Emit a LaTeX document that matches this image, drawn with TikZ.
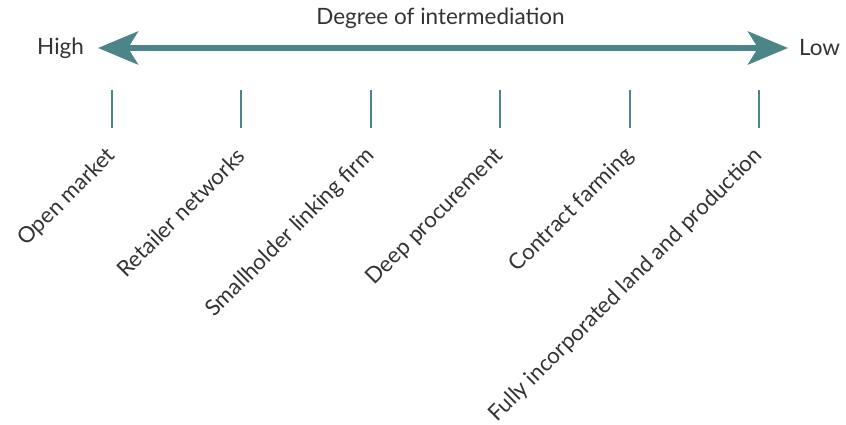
\documentclass[tikz,border=0pt]{standalone}
\usepackage{fontspec}
\setmainfont{Lato}
\usetikzlibrary{arrows.meta}
\usetikzlibrary{positioning}

\definecolor{axisteal}{HTML}{4B858A}
\definecolor{txt}{HTML}{333333}

\tikzset{
  axisline/.style={draw=axisteal,line width=0.12cm,
    {Stealth[length=0.8cm,width=0.66cm,inset=0.2cm]}-{Stealth[length=0.8cm,width=0.66cm,inset=0.2cm]}},
  tickmark/.style={inner sep=0pt,minimum height=0.76cm,minimum width=0pt},
  tickline/.style={draw=axisteal,line width=0.04cm},
  lbl/.style={text=txt,font=\fontsize{12.6}{14}\selectfont,rotate=45,anchor=east,inner sep=1pt},
  endlbl/.style={text=txt,font=\fontsize{12.8}{14}\selectfont,inner sep=1pt}
}

\begin{document}
\begin{tikzpicture}

  \useasboundingbox (0,0) rectangle (16.92,-8.5);

  \node [endlbl] (title) at (8.81,-0.36) {Degree of intermediation};

  \coordinate (highend) at (1.96,-0.96);
  \coordinate (lowend)  at (15.76,-0.96);
  \path [axisline] (highend) -- (lowend);

  \node [endlbl,left=0.24cm of highend] (high) {High};
  \node [endlbl,right=0.18cm of lowend] (low) {Low};

  \node [tickmark] (t1) at (2.24,-2.18) {};
  \node [tickmark] (t2) at (4.82,-2.18) {};
  \node [tickmark] (t3) at (7.42,-2.18) {};
  \node [tickmark] (t4) at (10.0,-2.18) {};
  \node [tickmark] (t5) at (12.6,-2.18) {};
  \node [tickmark] (t6) at (15.18,-2.18) {};

  \path [tickline]
    (t1.north) edge (t1.south)
    (t2.north) edge (t2.south)
    (t3.north) edge (t3.south)
    (t4.north) edge (t4.south)
    (t5.north) edge (t5.south)
    (t6.north) edge (t6.south);

  \node [lbl] (open)     at ([shift={(0.03,-0.45)}]t1.south) {Open market};
  \node [lbl] (retail)   at ([shift={(0.03,-0.45)}]t2.south) {Retailer networks};
  \node [lbl] (linking)  at ([shift={(0.03,-0.45)}]t3.south) {Smallholder linking firm};
  \node [lbl] (deep)     at ([shift={(0.03,-0.45)}]t4.south) {Deep procurement};
  \node [lbl] (contract) at ([shift={(0.03,-0.45)}]t5.south) {Contract farming};
  \node [lbl] (fully)    at ([shift={(0.03,-0.45)}]t6.south) {Fully incorporated land and production};

\end{tikzpicture}
\end{document}
